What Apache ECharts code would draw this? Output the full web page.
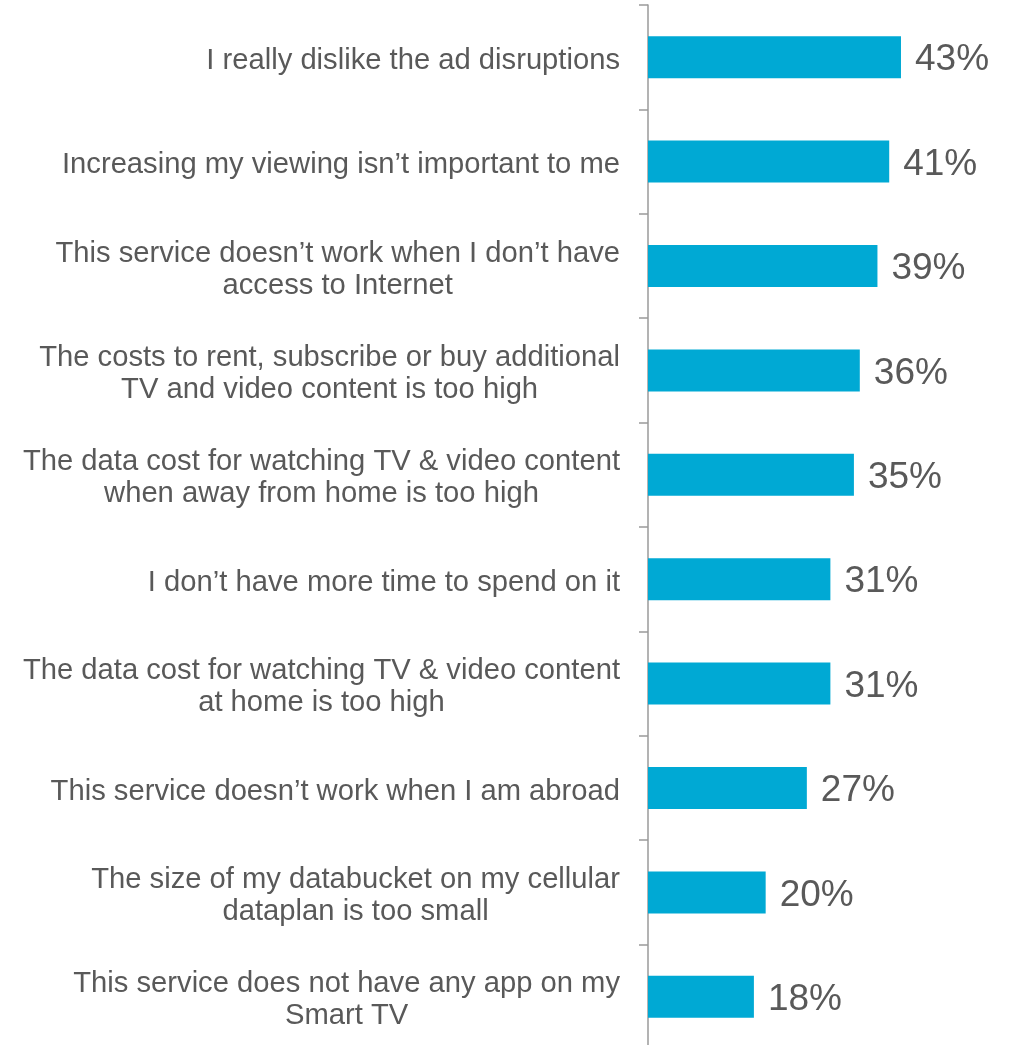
<!DOCTYPE html>
<html>
<head>
<meta charset="utf-8">
<style>
  html, body { margin: 0; padding: 0; background: #ffffff; overflow: hidden; }
  /* the last category band runs slightly past the bottom edge of the page */
  #chart { width: 1009px; height: 1049px; }
</style>
<script src="https://cdn.jsdelivr.net/npm/echarts@6/dist/echarts.min.js"></script>
</head>
<body>
<div id="chart"></div>
<script>
// Reasons for not watching more TV & video content on the service (share of respondents, %)
const categories = [
  "I really dislike the ad disruptions",
  "Increasing my viewing isn\u2019t important to me",
  "This service doesn\u2019t work when I don\u2019t have\naccess to Internet",
  "The costs to rent, subscribe or buy additional\nTV and video content is too high",
  "The data cost for watching TV & video content\nwhen away from home is too high",
  "I don\u2019t have more time to spend on it",
  "The data cost for watching TV & video content\nat home is too high",
  "This service doesn\u2019t work when I am abroad",
  "The size of my databucket on my cellular\ndataplan is too small",
  "This service does not have any app on my\nSmart TV"
];
const values = [43, 41, 39, 36, 35, 31, 31, 27, 20, 18];

const textColor = '#595959';
const barColor = '#00A9D4';
const axisColor = '#9a9a9a';

const chart = echarts.init(document.getElementById('chart'));
chart.setOption({
  animation: false,
  grid: { left: 648, right: 8, top: 5, bottom: 0, containLabel: false },
  xAxis: {
    type: 'value',
    min: 0,
    max: 60,
    show: false
  },
  yAxis: {
    type: 'category',
    data: categories,
    inverse: true,
    axisLine: { show: true, lineStyle: { color: axisColor, width: 1.5 } },
    axisTick: { show: true, length: 9, lineStyle: { color: axisColor, width: 1.5 } },
    axisLabel: {
      margin: 28,
      align: 'right',
      formatter: function (v) {
        // a thin spacer line on top nudges the centred block down a little
        return '{s| }\n' + v.split('\n').map(function (s) { return '{c|' + s + '}'; }).join('\n');
      },
      rich: {
        s: { fontSize: 2, lineHeight: 7 },
        c: {
          align: 'center',
          color: textColor,
          fontFamily: 'Liberation Sans, Arial, sans-serif',
          fontSize: 29.2,
          lineHeight: 32
        }
      }
    }
  },
  series: [{
    type: 'bar',
    data: values,
    barWidth: 42,
    itemStyle: { color: barColor },
    label: {
      show: true,
      position: 'right',
      distance: 14,
      offset: [0, 3],
      formatter: '{c}%',
      color: textColor,
      fontFamily: 'Liberation Sans, Arial, sans-serif',
      fontSize: 37
    }
  }]
});
</script>
</body>
</html>
